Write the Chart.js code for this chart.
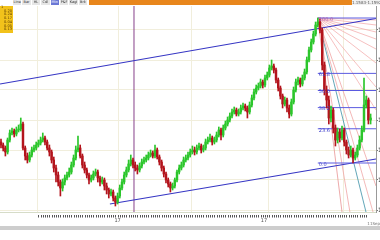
<!DOCTYPE html>
<html>
<head>
<meta charset="utf-8">
<script src="https://cdn.jsdelivr.net/npm/chart.js@4.4.1/dist/chart.umd.min.js"></script>
<style>
  html, body { margin: 0; padding: 0; background: #fff; }
  #wrap { position: relative; width: 380px; height: 240px; overflow: hidden; font-family: 'DejaVu Sans', sans-serif; }
  #c { position: absolute; left: 0; top: 0; }
  .tabs { position: absolute; left: 13px; top: 0; height: 5px; display: flex; }
  .tab { width: 8.4px; height: 5px; margin-right: 1px; font-size: 3.5px; line-height: 5px; text-align: center; background: #e6e6e6; color: #333; overflow: hidden; white-space: nowrap; }
  .tab.on { background: #6b78d6; color: #fff; }
  .orange { position: absolute; left: 89px; top: 0; width: 263px; height: 5px; background: #e8861c; }
  .quote { position: absolute; left: 352px; top: 0; width: 28px; height: 5px; background: #f1f1f1; font-size: 4px; line-height: 5px; color: #555; white-space: nowrap; overflow: hidden; }
  .ybox { position: absolute; left: 0; top: 6px; width: 13px; height: 27px; background: #f2c21b; color: #5a3a00; font-size: 3.6px; line-height: 3.7px; }
  .ybox div { text-align: right; padding-right: 1px; }
  .ybox div.first { text-align: left; padding-left: 1px; }
  .btxt { position: absolute; left: 360px; top: 222px; width: 20px; font-size: 4px; line-height: 4px; color: #777; text-align: right; white-space: nowrap; }
  .bbar { position: absolute; left: 0; top: 226px; width: 380px; height: 4px; background: #cdcdcd; }
</style>
</head>
<body>
<div id="wrap">
  <canvas id="c" width="380" height="240"></canvas>
  <div class="tabs">
    <div class="tab">Line</div><div class="tab">Bar</div><div class="tab">HL</div><div class="tab">Cdl</div>
    <div class="tab on">Mtn</div><div class="tab">P&amp;F</div><div class="tab">Kagi</div><div class="tab">Brk</div>
  </div>
  <div class="orange"></div>
  <div class="quote">1.1583-1.1592</div>
  <div class="ybox">
    <div class="first">1</div><div>0.20</div><div>0.24</div><div>0.17</div><div>0.04</div><div>0.05</div><div>0.13</div>
  </div>
  <div class="btxt">11Sep</div>
  <div class="bbar"></div>
</div>
<script>
'use strict';

// 캔들 데이터 (가격)
const opens = [
  1.1258,1.1255,1.1252,1.1248,1.1260,1.1267,1.1269,1.1266,1.1270,1.1271,
  1.1276,1.1252,1.1244,1.1240,1.1245,1.1250,1.1252,1.1255,1.1257,1.1260,
  1.1262,1.1258,1.1252,1.1248,1.1240,1.1232,1.1225,1.1218,1.1212,1.1218,
  1.1222,1.1225,1.1228,1.1235,1.1242,1.1250,1.1252,1.1244,1.1235,1.1230,
  1.1225,1.1220,1.1222,1.1226,1.1228,1.1222,1.1218,1.1220,1.1214,1.1210,
  1.1206,1.1208,1.1202,1.1198,1.1204,1.1212,1.1218,1.1225,1.1230,1.1236,
  1.1240,1.1235,1.1232,1.1230,1.1234,1.1238,1.1240,1.1242,1.1245,1.1247,
  1.1244,1.1250,1.1243,1.1238,1.1232,1.1226,1.1220,1.1216,1.1212,1.1214,
  1.1220,1.1228,1.1232,1.1235,1.1240,1.1242,1.1245,1.1248,1.1250,1.1248,
  1.1252,1.1254,1.1250,1.1252,1.1258,1.1260,1.1262,1.1258,1.1260,1.1265,
  1.1270,1.1265,1.1272,1.1276,1.1280,1.1284,1.1288,1.1290,1.1286,1.1288,
  1.1292,1.1294,1.1292,1.1288,1.1295,1.1302,1.1308,1.1312,1.1314,1.1318,
  1.1315,1.1322,1.1325,1.1332,1.1334,1.1330,1.1320,1.1312,1.1304,1.1296,
  1.1300,1.1292,1.1286,1.1298,1.1310,1.1318,1.1320,1.1316,1.1322,1.1328,
  1.1340,1.1350,1.1358,1.1366,1.1375,1.1378,1.1370,1.1335,1.1310,1.1300,
  1.1282,1.1290,1.1272,1.1260,1.1268,1.1262,1.1270,1.1258,1.1250,1.1245,
  1.1250,1.1242,1.1245,1.1252,1.1260,1.1270,1.1295,1.1300,1.1280
];
const closes = [
  1.1255,1.1252,1.1248,1.1260,1.1267,1.1269,1.1266,1.1270,1.1271,1.1276,
  1.1252,1.1244,1.1240,1.1245,1.1250,1.1252,1.1255,1.1257,1.1260,1.1262,
  1.1258,1.1252,1.1248,1.1240,1.1232,1.1225,1.1218,1.1212,1.1218,1.1222,
  1.1225,1.1228,1.1235,1.1242,1.1250,1.1252,1.1244,1.1235,1.1230,1.1225,
  1.1220,1.1222,1.1226,1.1228,1.1222,1.1218,1.1220,1.1214,1.1210,1.1206,
  1.1208,1.1202,1.1198,1.1204,1.1212,1.1218,1.1225,1.1230,1.1236,1.1240,
  1.1235,1.1232,1.1230,1.1234,1.1238,1.1240,1.1242,1.1245,1.1247,1.1244,
  1.1250,1.1243,1.1238,1.1232,1.1226,1.1220,1.1216,1.1212,1.1214,1.1220,
  1.1228,1.1232,1.1235,1.1240,1.1242,1.1245,1.1248,1.1250,1.1248,1.1252,
  1.1254,1.1250,1.1252,1.1258,1.1260,1.1262,1.1258,1.1260,1.1265,1.1270,
  1.1265,1.1272,1.1276,1.1280,1.1284,1.1288,1.1290,1.1286,1.1288,1.1292,
  1.1294,1.1292,1.1288,1.1295,1.1302,1.1308,1.1312,1.1314,1.1318,1.1315,
  1.1322,1.1325,1.1332,1.1334,1.1330,1.1320,1.1312,1.1304,1.1296,1.1300,
  1.1292,1.1286,1.1298,1.1310,1.1318,1.1320,1.1316,1.1322,1.1328,1.1340,
  1.1350,1.1358,1.1366,1.1375,1.1378,1.1370,1.1335,1.1310,1.1300,1.1282,
  1.1290,1.1272,1.1260,1.1268,1.1262,1.1270,1.1258,1.1250,1.1245,1.1250,
  1.1242,1.1245,1.1252,1.1260,1.1270,1.1295,1.1300,1.1280,1.1282
];
const highs = [
  1.1261,1.1257,1.1254,1.1262,1.1270,1.1272,1.1271,1.1273,1.1275,1.1282,
  1.1278,1.1254,1.1247,1.1248,1.1253,1.1255,1.1258,1.1260,1.1263,1.1267,
  1.1264,1.1260,1.1255,1.1250,1.1243,1.1235,1.1228,1.1220,1.1221,1.1225,
  1.1228,1.1232,1.1238,1.1245,1.1254,1.1264,1.1255,1.1246,1.1238,1.1232,
  1.1227,1.1225,1.1229,1.1231,1.1230,1.1224,1.1223,1.1222,1.1217,1.1212,
  1.1211,1.1210,1.1204,1.1207,1.1215,1.1221,1.1228,1.1233,1.1240,1.1245,
  1.1242,1.1238,1.1235,1.1237,1.1241,1.1243,1.1245,1.1248,1.1250,1.1249,
  1.1255,1.1252,1.1245,1.1240,1.1234,1.1228,1.1222,1.1218,1.1217,1.1222,
  1.1230,1.1235,1.1238,1.1243,1.1245,1.1248,1.1251,1.1254,1.1253,1.1255,
  1.1257,1.1256,1.1255,1.1261,1.1263,1.1266,1.1264,1.1263,1.1268,1.1273,
  1.1272,1.1275,1.1279,1.1283,1.1287,1.1291,1.1293,1.1292,1.1291,1.1295,
  1.1297,1.1296,1.1294,1.1298,1.1305,1.1311,1.1315,1.1317,1.1321,1.1320,
  1.1325,1.1328,1.1335,1.1340,1.1336,1.1332,1.1322,1.1314,1.1306,1.1303,
  1.1302,1.1295,1.1301,1.1313,1.1321,1.1323,1.1322,1.1325,1.1331,1.1343,
  1.1353,1.1361,1.1369,1.1378,1.1382,1.1381,1.1372,1.1338,1.1314,1.1304,
  1.1294,1.1292,1.1275,1.1272,1.1271,1.1274,1.1272,1.1260,1.1253,1.1254,
  1.1252,1.1248,1.1255,1.1264,1.1274,1.1322,1.1304,1.1302,1.1286
];
const lows = [
  1.1252,1.1249,1.1244,1.1246,1.1258,1.1265,1.1263,1.1264,1.1268,1.1269,
  1.1250,1.1240,1.1237,1.1238,1.1243,1.1248,1.1250,1.1253,1.1255,1.1258,
  1.1255,1.1250,1.1244,1.1237,1.1228,1.1218,1.1214,1.1204,1.1209,1.1215,
  1.1220,1.1223,1.1226,1.1233,1.1240,1.1248,1.1242,1.1232,1.1227,1.1222,
  1.1216,1.1218,1.1220,1.1224,1.1218,1.1214,1.1216,1.1210,1.1206,1.1202,
  1.1204,1.1199,1.1194,1.1196,1.1202,1.1210,1.1216,1.1223,1.1228,1.1234,
  1.1232,1.1229,1.1226,1.1228,1.1232,1.1236,1.1238,1.1240,1.1243,1.1242,
  1.1242,1.1241,1.1235,1.1229,1.1223,1.1217,1.1213,1.1208,1.1210,1.1212,
  1.1218,1.1226,1.1230,1.1233,1.1238,1.1240,1.1243,1.1246,1.1245,1.1246,
  1.1250,1.1247,1.1248,1.1250,1.1256,1.1258,1.1255,1.1256,1.1258,1.1263,
  1.1260,1.1263,1.1270,1.1274,1.1278,1.1282,1.1286,1.1284,1.1284,1.1286,
  1.1290,1.1289,1.1282,1.1286,1.1293,1.1300,1.1306,1.1310,1.1312,1.1312,
  1.1313,1.1320,1.1323,1.1330,1.1327,1.1317,1.1309,1.1301,1.1292,1.1294,
  1.1288,1.1282,1.1284,1.1296,1.1308,1.1315,1.1313,1.1314,1.1320,1.1326,
  1.1338,1.1348,1.1356,1.1364,1.1373,1.1367,1.1330,1.1305,1.1292,1.1276,
  1.1278,1.1267,1.1254,1.1257,1.1258,1.1260,1.1254,1.1246,1.1242,1.1243,
  1.1237,1.1240,1.1243,1.1250,1.1258,1.1268,1.1292,1.1276,1.1276
];

// 축 / 보조선
const yTicks    = [1.119, 1.122, 1.125, 1.128, 1.131, 1.134, 1.137];
const gridBars  = [16.4, 53.2, 86.8, 121.4, 155.5];
const dateBars  = [53, 119.5];
const dateTexts = ['17', '17'];

// 추세 채널 (봉 인덱스, 가격)
const upperLineBars   = [-0.45, 170.45];
const upperLinePrices = [1.1316, 1.13815];
const lowerLineBars   = [49.5, 170.45];
const lowerLinePrices = [1.1196, 1.1241];
const markerBar = 60.45;

// 피보나치 되돌림
const fibHighBar = 144, fibHigh = 1.1382;
const fibLow = 1.1237;
const fibRatios = [0, 0.236, 0.382, 0.5, 0.618, 1];
const fibTexts  = ['0.0', '23.6', '38.2', '50.0', '61.8', '100.0'];

// 갠 팬 라인 끝점
const fanEndBars   = [170.45, 170.45, 170.45, 170.45, 170.45, 170.45, 170.45, 170.45, 170.45, 169.1, 165.9, 158.6, 155];
const fanEndPrices = [1.1380, 1.1375, 1.1368, 1.1361, 1.1351, 1.1337, 1.1313, 1.1290, 1.1214, 1.1188, 1.1188, 1.1188, 1.1188];
const fanColors    = ['#f4b0b0','#f4b0b0','#f4b0b0','#f4b0b0','#f4b0b0','#f4b0b0','#f4b0b0','#f4b0b0','#f0a4a4','#f0a8a8','#3a8fa6','#f0a4a4','#e89494'];

const Y_MIN = 1.1188, Y_MAX = 1.1394;
const GREEN = '#2bc62b', RED = '#b3141c';
const BLUE = '#3535c4', FIB_BLUE = '#5a5ae0';

const bars = opens.map((_, i) => i);
const candleColors = bars.map(i => closes[i] >= opens[i] ? GREEN : RED);

function seg(xs, ys, color, width) {
  return {
    type: 'line',
    data: xs.map((x, k) => ({ x, y: ys[k] })),
    borderColor: color,
    borderWidth: width,
    pointRadius: 0,
    tension: 0,
    fill: false,
  };
}

const lineSets = [];
fibRatios.forEach(r => {
  const p = fibLow + r * (fibHigh - fibLow);
  lineSets.push(seg([fibHighBar, 170.45], [p, p], FIB_BLUE, 1));
});
lineSets.push(seg(upperLineBars, upperLinePrices, BLUE, 1.2));
lineSets.push(seg(lowerLineBars, lowerLinePrices, BLUE, 1.2));
fanEndBars.forEach((b, k) => {
  lineSets.push(seg([fibHighBar, b], [fibHigh, fanEndPrices[k]], fanColors[k], 0.8));
});
lineSets.push(seg([markerBar, markerBar], [Y_MIN, Y_MAX], '#87408a', 1));

// 피보 라벨 + 하단 눈금
const overlayPlugin = {
  id: 'overlay',
  afterDatasetsDraw(chart) {
    const { ctx, scales: { x, y } } = chart;
    ctx.save();
    ctx.font = '5px "DejaVu Sans"';
    ctx.textAlign = 'left';
    ctx.textBaseline = 'middle';
    fibRatios.forEach((r, k) => {
      const p = fibLow + r * (fibHigh - fibLow);
      ctx.fillStyle = r === 1 ? '#b060b0' : '#4040cc';
      ctx.fillText(fibTexts[k], x.getPixelForValue(fibHighBar) + 1, y.getPixelForValue(p) + 1.5);
    });
    ctx.restore();
  },
  afterDraw(chart) {
    const { ctx, scales: { x } } = chart;
    const base = chart.chartArea.bottom;
    ctx.save();
    ctx.fillStyle = '#555';
    for (let i = 17; i <= 166; i++) {
      ctx.fillRect(Math.round(x.getPixelForValue(i)), base + 3, 1, 2.5);
    }
    ctx.font = '5px "DejaVu Sans"';
    ctx.fillStyle = '#555';
    ctx.textAlign = 'center';
    ctx.textBaseline = 'top';
    dateBars.forEach((b, k) => ctx.fillText(dateTexts[k], x.getPixelForValue(b), base + 6));
    ctx.restore();
  },
};

new Chart(document.getElementById('c'), {
  type: 'bar',
  data: {
    datasets: [
      {
        data: bars.map(i => ({ x: i, y: [opens[i], closes[i]] })),
        backgroundColor: candleColors,
        borderWidth: 0,
        barThickness: 1.8,
        minBarLength: 1,
        grouped: false,
      },
      {
        data: bars.map(i => ({ x: i, y: [lows[i], highs[i]] })),
        backgroundColor: candleColors,
        borderWidth: 0,
        barThickness: 1,
        grouped: false,
      },
      ...lineSets,
    ],
  },
  options: {
    responsive: false,
    animation: false,
    events: [],
    layout: { padding: { top: 6, bottom: 28, left: 0, right: 0 } },
    plugins: { legend: { display: false }, tooltip: { enabled: false } },
    scales: {
      x: {
        type: 'linear',
        min: -0.45,
        max: 170.45,
        offset: false,
        grid: { offset: false, color: '#f1eedc', drawTicks: false },
        border: { display: true, color: '#d6dcc8' },
        ticks: { display: false },
        afterBuildTicks: s => { s.ticks = gridBars.map(v => ({ value: v })); },
        afterFit: s => { s.height = 0; },
      },
      y: {
        position: 'right',
        min: Y_MIN,
        max: Y_MAX,
        beginAtZero: false,
        grid: { color: '#f1eedc', tickLength: 2, tickColor: '#777' },
        border: { display: true, color: '#999' },
        ticks: { font: { size: 6, family: 'DejaVu Sans' }, color: '#222', padding: 0, callback: v => v.toFixed(4) },
        afterBuildTicks: s => { s.ticks = yTicks.map(v => ({ value: v })); },
        afterFit: s => { s.width = 4; },
      },
    },
  },
  plugins: [overlayPlugin],
});
</script>
</body>
</html>
